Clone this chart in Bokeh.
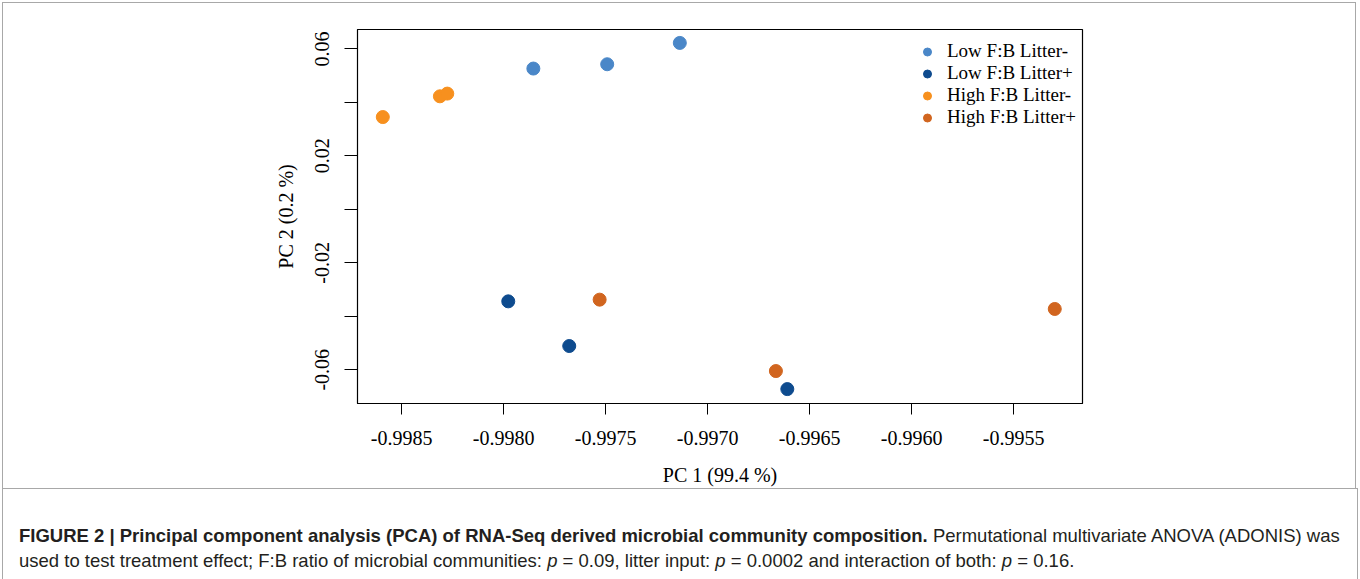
from bokeh.plotting import figure
from bokeh.models import Legend, LegendItem, FixedTicker, Div
from bokeh.layouts import column
from bokeh.embed import file_html
from bokeh.resources import INLINE

# ---------------- data ----------------
groups = ["Low F:B Litter-", "Low F:B Litter+", "High F:B Litter-", "High F:B Litter+"]
colors = ["#4A87C8", "#0E4B8E", "#F7901E", "#D1651F"]

pc1_low_minus = [-0.997854, -0.997492, -0.997136]
pc2_low_minus = [0.05266, 0.05427, 0.06225]
pc1_low_plus = [-0.997977, -0.997678, -0.996609]
pc2_low_plus = [-0.03442, -0.05113, -0.06724]
pc1_high_minus = [-0.998592, -0.998312, -0.998276]
pc2_high_minus = [0.03452, 0.04228, 0.04329]
pc1_high_plus = [-0.997529, -0.996665, -0.995298]
pc2_high_plus = [-0.03378, -0.06049, -0.03727]

x_ticks = [-0.9985, -0.998, -0.9975, -0.997, -0.9965, -0.996, -0.9955]
x_tick_labels = ["-0.9985", "-0.9980", "-0.9975", "-0.9970", "-0.9965", "-0.9960", "-0.9955"]
y_ticks = [-0.06, -0.04, -0.02, 0.0, 0.02, 0.04, 0.06]
y_tick_labels = ["-0.06", "", "-0.02", "", "0.02", "", "0.06"]

x_label = "PC 1 (99.4 %)"
y_label = "PC 2 (0.2 %)"

caption_bold = ("FIGURE 2 | Principal component analysis (PCA) of RNA-Seq derived "
                "microbial community composition.")
caption_rest1 = " Permutational multivariate ANOVA (ADONIS) was"
caption_line2 = ("used to test treatment effect; F:B ratio of microbial communities: "
                 "<i>p</i> = 0.09, litter input: <i>p</i> = 0.0002 and interaction of both: "
                 "<i>p</i> = 0.16.")

# ---------------- figure ----------------
SERIF = "Liberation Serif"
BORDER = "#a8a8a8"

p = figure(width=1354, height=486, output_backend="svg", toolbar_location=None,
           x_range=(-0.998716, -0.995162), y_range=(-0.07263, 0.06727),
           min_border_left=354, min_border_right=275, min_border_top=26,
           min_border_bottom=86, margin=(2, 0, 0, 2))
p.styles = {
    "border-top": "1px solid " + BORDER,
    "border-left": "1px solid " + BORDER,
    "border-right": "1px solid " + BORDER,
}
p.background_fill_color = "white"
p.border_fill_color = "white"
p.outline_line_color = "black"
p.outline_line_width = 1.2
p.xgrid.visible = False
p.ygrid.visible = False

series = [
    (pc1_low_minus, pc2_low_minus),
    (pc1_low_plus, pc2_low_plus),
    (pc1_high_minus, pc2_high_minus),
    (pc1_high_plus, pc2_high_plus),
]
renderers = []
for (xs, ys), c in zip(series, colors):
    r = p.scatter(xs, ys, size=13, fill_color=c, line_color=c)
    renderers.append(r)

for ax in (p.xaxis[0], p.yaxis[0]):
    ax.axis_line_color = "black"
    ax.major_tick_line_color = "black"
    ax.major_tick_in = 0
    ax.minor_tick_line_color = None
    ax.major_label_text_font = SERIF
    ax.major_label_text_font_size = "20px"
    ax.major_label_text_color = "black"
    ax.axis_label_text_font = SERIF
    ax.axis_label_text_font_size = "20px"
    ax.axis_label_text_font_style = "normal"
    ax.axis_label_text_color = "black"

p.xaxis.ticker = FixedTicker(ticks=x_ticks)
p.xaxis.major_label_overrides = dict(zip(x_ticks, x_tick_labels))
p.xaxis.major_tick_out = 11
p.xaxis.major_label_standoff = 16
p.xaxis.axis_label = x_label
p.xaxis.axis_label_standoff = 16

p.yaxis.ticker = FixedTicker(ticks=y_ticks)
p.yaxis.major_label_overrides = dict(zip(y_ticks, y_tick_labels))
p.yaxis.major_label_orientation = "vertical"
p.yaxis.major_tick_out = 13
p.yaxis.major_label_standoff = 15
p.yaxis.axis_label = y_label
p.yaxis.axis_label_standoff = 16

legend = Legend(
    items=[LegendItem(label=g, renderers=[r]) for g, r in zip(groups, renderers)],
    location=(560, 275), glyph_width=20, glyph_height=21, label_height=21,
    spacing=0, padding=0, margin=0, label_standoff=10,
    border_line_color=None, background_fill_alpha=0,
    label_text_font=SERIF, label_text_font_size="19px", label_text_color="black",
    label_text_line_height=1.0,
)
p.add_layout(legend)

div = Div(
    text=("<b>" + caption_bold + "</b>" + caption_rest1 + "<br>" + caption_line2),
    width=1356, height=95, margin=(0, 0, 0, 2),
    styles={
        "border-top": "1px solid " + BORDER,
        "border-left": "1px solid " + BORDER,
        "border-right": "1px solid " + BORDER,
        "box-sizing": "border-box",
        "padding-left": "16px",
        "padding-top": "34px",
        "font-family": "'Liberation Sans', sans-serif",
        "font-size": "18.5px",
        "line-height": "25px",
        "color": "#231f20",
        "white-space": "nowrap",
    },
)

layout = column(p, div, spacing=0)
open("out.html", "w").write(file_html(layout, INLINE))
